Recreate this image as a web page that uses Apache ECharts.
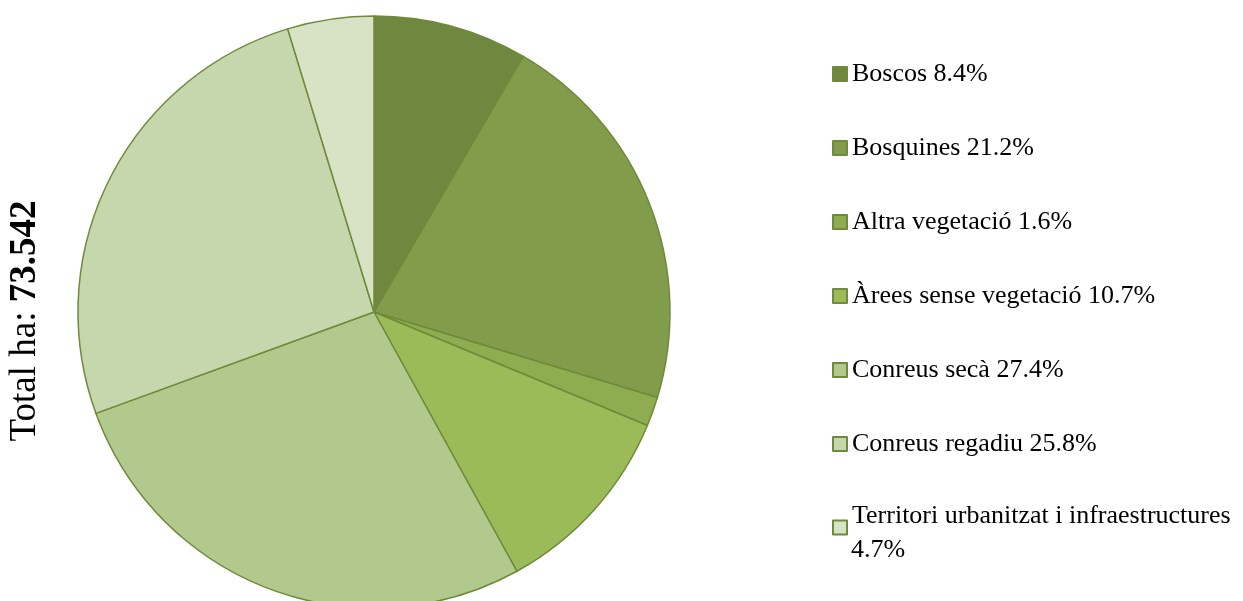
<!DOCTYPE html>
<html>
<head>
<meta charset="utf-8">
<script src="https://cdn.jsdelivr.net/npm/echarts@6/dist/echarts.min.js"></script>
<style>
html,body{margin:0;padding:0;background:#fff;}
#chart{width:1243px;height:601px;}
</style>
</head>
<body>
<div id="chart"></div>
<script>
const categories = ['Boscos', 'Bosquines', 'Altra vegetació', 'Àrees sense vegetació', 'Conreus secà', 'Conreus regadiu', 'Territori urbanitzat i infraestructures'];
const percentages = [8.4, 21.2, 1.6, 10.7, 27.4, 25.8, 4.7];
const colors = ['#6F873F', '#819C4A', '#8EAD51', '#9BBB59', '#B2C98E', '#C6D6AD', '#D8E3C6'];
const totalLabel = 'Total ha: ';
const totalValue = '73.542';

const FONT = "'Liberation Serif', 'Times New Roman', serif";
const lastIdx = categories.length - 1;

const chart = echarts.init(document.getElementById('chart'));
chart.setOption({
  animation: false,
  backgroundColor: '#ffffff',
  color: colors,
  legend: {
    orient: 'vertical',
    left: 832,
    top: 59.5,
    padding: 0,
    icon: 'rect',
    itemWidth: 14,
    itemHeight: 14,
    itemGap: 45,
    selectedMode: false,
    textStyle: {
      fontFamily: FONT, fontSize: 26, color: '#000', lineHeight: 29,
      rich: {
        t: { fontFamily: FONT, fontSize: 26, color: '#000', lineHeight: 29, padding: [0, 0, 7, 0] }
      }
    },
    formatter: function (name) {
      const i = categories.indexOf(name);
      return i === lastIdx ? '{t|' + name + '}' : name + ' ' + percentages[i] + '%';
    },
    data: categories.map((c, i) => i === lastIdx
      ? { name: c, textStyle: { padding: [0, 0, 15, 0] } }
      : { name: c })
  },
  graphic: [
    {
      type: 'text',
      left: 851,
      top: 537,
      style: { text: percentages[lastIdx] + '%', font: '26px ' + FONT, fill: '#000' }
    },
    {
      type: 'text',
      x: 25,
      y: 321,
      rotation: Math.PI / 2,
      style: {
        text: '{n|' + totalLabel + '}{b|' + totalValue + '}',
        align: 'center',
        verticalAlign: 'middle',
        rich: {
          n: { fontFamily: FONT, fontSize: 37, fill: '#000' },
          b: { fontFamily: FONT, fontSize: 37, fontWeight: 'bold', fill: '#000' }
        }
      }
    }
  ],
  series: [{
    type: 'pie',
    center: [374, 312],
    radius: [0, 296],
    startAngle: 90,
    clockwise: true,
    label: { show: false },
    labelLine: { show: false },
    emphasis: { disabled: true },
    itemStyle: { borderColor: '#6E8A3A', borderWidth: 1.5 },
    data: categories.map((c, i) => ({ name: c, value: percentages[i] }))
  }]
});
</script>
</body>
</html>
